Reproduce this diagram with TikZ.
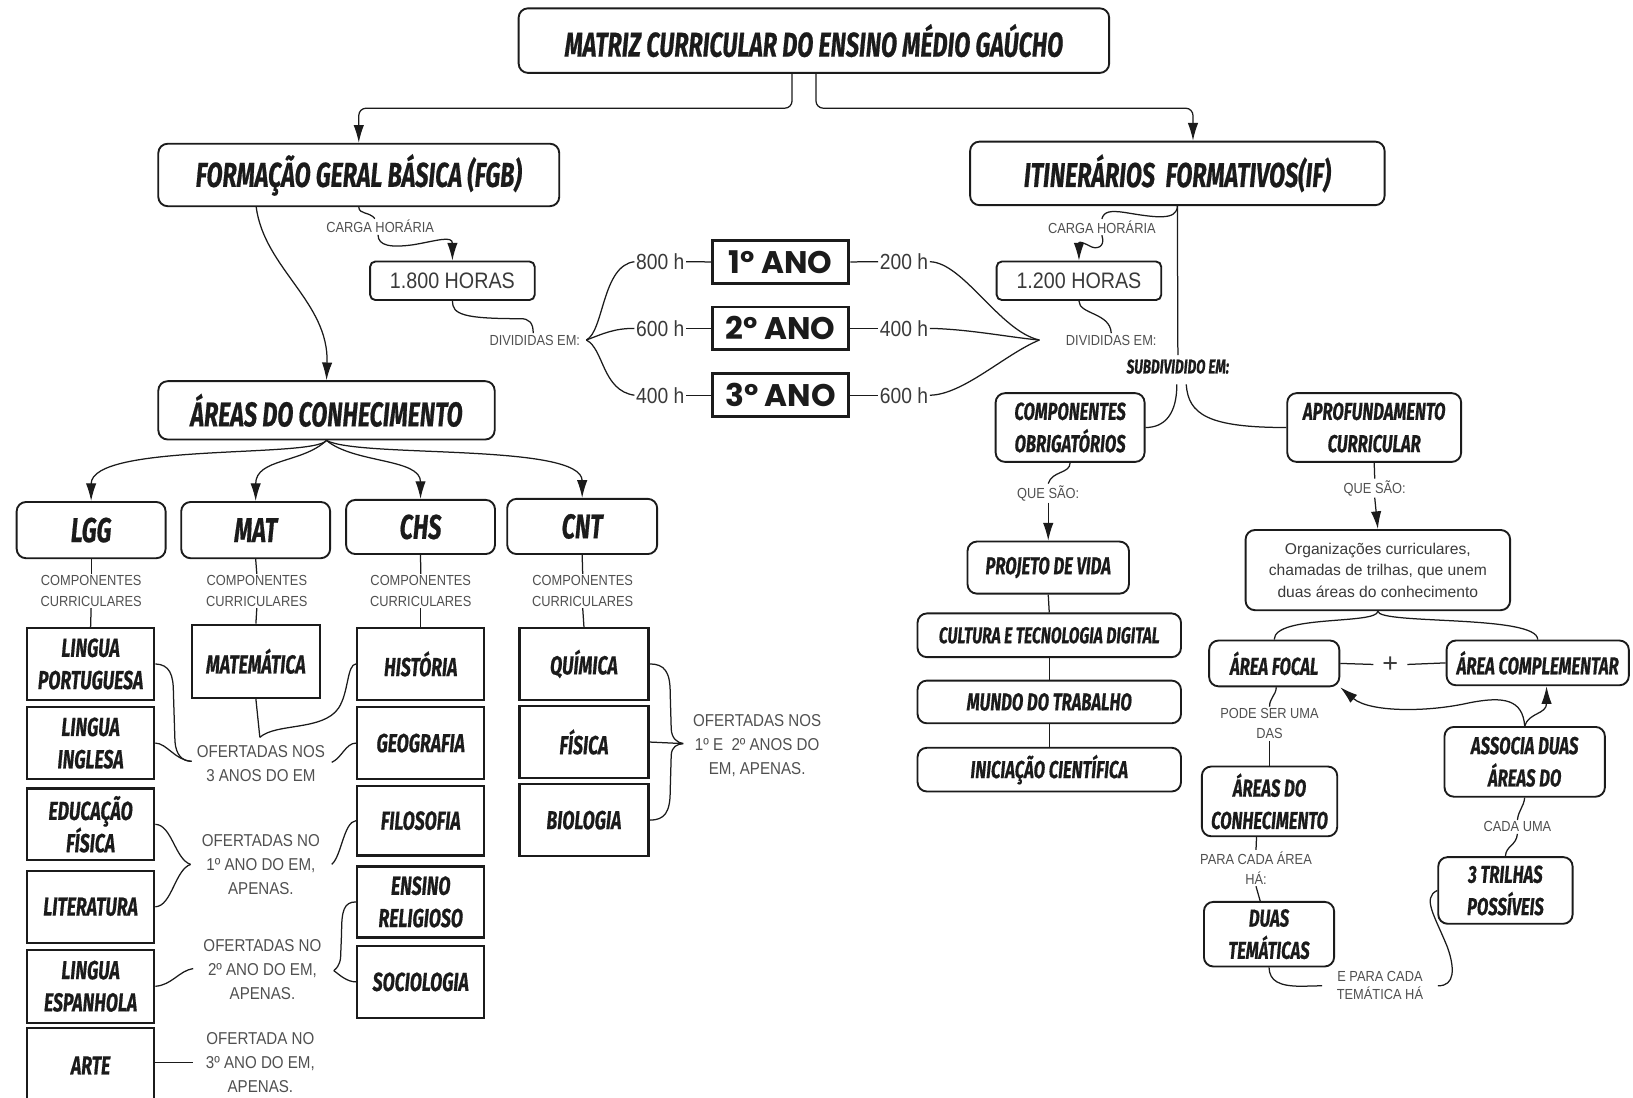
\documentclass[tikz,border=0pt]{standalone}
\usepackage{fontspec}
\usetikzlibrary{arrows.meta}
\newfontfamily\hfont[FakeStretch=0.68,FakeBold=0.5]{Fira Sans}
\newfontfamily\lfont[FakeStretch=0.88]{Liberation Sans}
\newfontfamily\bodyfont{Liberation Sans}
\newfontfamily\yfont{Poppins}
\definecolor{ink}{HTML}{1B1B1B}
\definecolor{labgray}{HTML}{505050}
\definecolor{darktxt}{HTML}{3A3A3A}
\tikzset{
  nodebase/.style={inner sep=0pt, align=center, text=ink},
  sz/.style 2 args={minimum width=#1pt, minimum height=#2pt},
  rbox/.style={nodebase, draw=ink, line width=1.8pt, rounded corners=9pt},
  sbox/.style={nodebase, draw=ink, line width=2.3pt},
  ybox/.style={nodebase, draw=ink, line width=2.8pt, sz={131}{41},
    font=\yfont\bfseries\fontsize{30}{30}\selectfont},
  hbox/.style={nodebase, draw=ink, line width=1.8pt, rounded corners=5pt, sz={158}{37},
    text=darktxt, font=\lfont\fontsize{21.5}{24}\selectfont},
  hA/.style={font=\hfont\bfseries\itshape\fontsize{33}{38}\selectfont},
  hB/.style={font=\hfont\bfseries\itshape\fontsize{25}{31}\selectfont},
  hC/.style={font=\hfont\bfseries\itshape\fontsize{23.5}{31}\selectfont},
  hsmall/.style={nodebase, inner sep=4pt, font=\hfont\bfseries\itshape\fontsize{19}{21}\selectfont},
  lab/.style={text=labgray, align=center, inner sep=1.5pt, font=\lfont\fontsize{14}{19.5}\selectfont},
  labL/.style={text=labgray, align=center, inner sep=1.5pt, font=\lfont\fontsize{16.5}{23}\selectfont},
  hrs/.style={text=darktxt, inner sep=1.5pt, font=\lfont\fontsize{21}{24}\selectfont},
  orgtext/.style={text=darktxt, font=\bodyfont\fontsize{15}{20.5}\selectfont},
  link/.style={draw=ink, line width=1.2pt},
  arr/.style={link, -{Latex[length=17pt,width=10pt]}}
}
\begin{document}
\begin{tikzpicture}[x=1pt,y=1pt]
\fill[white] (0,0) rectangle (1568,-1054);
\useasboundingbox (0,0) rectangle (1568,-1054);

% ---------- main headings ----------
\node[rbox,hA,sz={567}{62}] (title) at (781.5,-39) {MATRIZ CURRICULAR DO ENSINO MÉDIO GAÚCHO};
\node[rbox,hA,sz={385}{60}] (fgb) at (344.5,-168) {FORMAÇÃO GERAL BÁSICA (FGB)};
\node[rbox,hA,sz={398}{61}] (if) at (1130.5,-166.5) {ITINERÁRIOS\ \ FORMATIVOS(IF)};
\node[rbox,hA,sz={323}{56}] (areas) at (313.5,-394) {ÁREAS DO CONHECIMENTO};

\draw[arr,rounded corners=7pt] ([xshift=-21pt]title.south) -- ++(0,-33) -| (fgb.north);
\draw[arr,rounded corners=7pt] ([xshift=2pt]title.south) -- ++(0,-33) -| ([xshift=15pt]if.north);

% ---------- knowledge areas ----------
\node[rbox,hA,sz={143}{54}] (lgg) at (87.5,-509) {LGG};
\node[rbox,hA,sz={143}{54}] (mat) at (245.5,-509) {MAT};
\node[rbox,hA,sz={143}{52}] (chs) at (403.8,-506) {CHS};
\node[rbox,hA,sz={144}{53}] (cnt) at (559,-505.5) {CNT};

\draw[arr] ([xshift=-98.5pt]fgb.south) .. controls (254,-258) and (316,-290) .. (areas.north);
\draw[arr] (areas.south) .. controls (300,-440) and (87.5,-425) .. (lgg.north);
\draw[arr] (areas.south) .. controls (290,-445) and (245.5,-440) .. (mat.north);
\draw[arr] (areas.south) .. controls (340,-445) and (403.8,-440) .. (chs.north);
\draw[arr] (areas.south) .. controls (345,-440) and (559,-425) .. (cnt.north);

\node[lab] (cc1) at (87.5,-567.5) {COMPONENTES\\CURRICULARES};
\node[lab] (cc2) at (246.6,-567.5) {COMPONENTES\\CURRICULARES};
\node[lab] (cc3) at (404,-567.5) {COMPONENTES\\CURRICULARES};
\node[lab] (cc4) at (559.5,-567.5) {COMPONENTES\\CURRICULARES};

% ---------- curricular components ----------
\node[sbox,hB,sz={122}{69}] (lp) at (87,-637.5) {LINGUA\\PORTUGUESA};
\node[sbox,hB,sz={122}{69}] (li) at (87,-713.5) {LINGUA\\INGLESA};
\node[sbox,hB,sz={122}{69}] (ef) at (87,-791.5) {EDUCAÇÃO\\FÍSICA};
\node[sbox,hB,sz={122}{69}] (lit) at (87,-870.7) {LITERATURA};
\node[sbox,hB,sz={122}{70}] (le) at (87,-947) {LINGUA\\ESPANHOLA};
\node[sbox,hB,sz={122}{72}] (arte) at (87,-1023) {ARTE};

\node[sbox,hB,sz={123}{70}] (matem) at (245.7,-635) {MATEMÁTICA};

\node[sbox,hB,sz={122}{69}] (hist) at (404,-637.5) {HISTÓRIA};
\node[sbox,hB,sz={122}{69}] (geo) at (404,-713.5) {GEOGRAFIA};
\node[sbox,hB,sz={122}{67}] (filo) at (404,-788) {FILOSOFIA};
\node[sbox,hB,sz={122}{68}] (ens) at (404,-866) {ENSINO\\RELIGIOSO};
\node[sbox,hB,sz={122}{69}] (soc) at (404,-942.8) {SOCIOLOGIA};

\node[sbox,hB,sz={124}{69}] (quim) at (560.7,-637.5) {QUÍMICA};
\node[sbox,hB,sz={124}{69}] (fis) at (560.7,-712.5) {FÍSICA};
\node[sbox,hB,sz={124}{69}] (bio) at (560.7,-787.5) {BIOLOGIA};

\draw[link] (lgg.south) -- (cc1.north);  \draw[link] (cc1.south) -- (lp.north);
\draw[link] (mat.south) -- (cc2.north);  \draw[link] (cc2.south) -- (matem.north);
\draw[link] (chs.south) -- (cc3.north);  \draw[link] (cc3.south) -- (hist.north);
\draw[link] (cnt.south) -- (cc4.north);  \draw[link] (cc4.south) -- (quim.north);

% ---------- offering notes ----------
\node[labL] (of3) at (250.5,-733) {OFERTADAS NOS\\3 ANOS DO EM};
\node[labL] (of1) at (250.5,-830) {OFERTADAS NO\\1º ANO DO EM,\\APENAS.};
\node[labL] (of2) at (252,-931) {OFERTADAS NO\\2º ANO DO EM,\\APENAS.};
\node[labL] (of3a) at (250,-1020) {OFERTADA NO\\3º ANO DO EM,\\APENAS.};
\node[labL] (ofc) at (727,-715.5) {OFERTADAS NOS\\1º E\ \ 2º ANOS DO\\EM, APENAS.};

\coordinate (b1) at (184,-731);
\coordinate (b2) at (249.5,-708);
\coordinate (b3) at (318.5,-732);
\coordinate (b4) at (183,-830);
\coordinate (b5) at (318.5,-830);
\coordinate (b6) at (185.5,-930);
\coordinate (b7) at (320.5,-932);
\coordinate (b8) at (185.6,-1020);
\coordinate (b9) at (656,-714);

\draw[link] (lp.east) .. controls (163,-638) and (166.5,-648) .. (166.5,-665) -- (168,-712) .. controls (169,-725) and (175,-731) .. (b1);
\draw[link] (li.east) .. controls (160,-713.5) and (168,-730) .. (b1);
\draw[link] (matem.south) -- (b2);
\draw[link] (b2) .. controls (265,-694) and (310,-702) .. (325,-680) .. controls (335,-665) and (333,-638) .. (hist.west);
\draw[link] (geo.west) .. controls (332,-713.5) and (328,-728) .. (b3);

\draw[link] (ef.east) .. controls (165,-792) and (168,-825) .. (b4);
\draw[link] (lit.east) .. controls (165,-870) and (168,-835) .. (b4);
\draw[link] (filo.west) .. controls (330,-789) and (328,-822) .. (b5);

\draw[link] (le.east) .. controls (165,-946) and (172,-932) .. (b6);
\draw[link] (ens.west) .. controls (330,-866) and (328,-875) .. (328,-895) -- (327,-920) .. controls (326,-927) and (323,-930) .. (b7);
\draw[link] (soc.west) .. controls (333,-942.8) and (326,-936) .. (b7);

\draw[link] (arte.east |- b8) -- (b8);

\draw[link] (quim.east) .. controls (638,-637.5) and (643.5,-645) .. (643.5,-665) -- (644.5,-700) .. controls (645,-709) and (650,-713) .. (b9);
\draw[link] (fis.east) -- (b9);
\draw[link] (bio.east) .. controls (638,-787.5) and (643.5,-780) .. (643.5,-760) -- (644.5,-725) .. controls (645,-717) and (650,-714.5) .. (b9);

% ---------- workload (FGB) ----------
\node[lab] (carga1) at (365,-217.7) {CARGA HORÁRIA};
\node[hbox] (h1800) at (434.4,-269.6) {1.800 HORAS};
\node[lab] (div1) at (513.5,-326.5) {DIVIDIDAS EM:};

\draw[link] (fgb.south) .. controls (345,-206) and (354,-203) .. ([xshift=-5pt]carga1.north);
\draw[arr] ([xshift=-2pt]carga1.south) .. controls (363,-236) and (375,-238) .. (397,-235) .. controls (420,-231) and (434.4,-226) .. (h1800.north);
\draw[link] (h1800.south) .. controls (434.4,-302) and (445,-306) .. (500,-306) .. controls (508,-306) and (512,-310) .. ([xshift=-1.5pt]div1.north);

% ---------- years ----------
\node[ybox] (y1) at (749.5,-251.5) {1º ANO};
\node[ybox] (y2) at (749.5,-315.3) {2º ANO};
\node[ybox] (y3) at (749.5,-379.5) {3º ANO};

\node[hrs] (h800) at (634,-251.3) {800 h};
\node[hrs] (h600) at (634,-315.3) {600 h};
\node[hrs] (h400) at (634,-379.5) {400 h};
\node[hrs] (h200) at (868,-251.3) {200 h};
\node[hrs] (h400r) at (868,-315.3) {400 h};
\node[hrs] (h600r) at (868,-379.5) {600 h};

\coordinate (j1) at (563,-326.5);
\coordinate (j2) at (998,-326.5);

\draw[link] (j1) .. controls (580,-318) and (578,-255) .. (h800.west);
\draw[link] (j1) .. controls (580,-320) and (590,-315.3) .. (h600.west);
\draw[link] (j1) .. controls (580,-335) and (578,-375) .. (h400.west);

\draw[link] (h800.east) -- (y1.west);  \draw[link] (y1.east) -- (h200.west);
\draw[link] (h600.east) -- (y2.west);  \draw[link] (y2.east) -- (h400r.west);
\draw[link] (h400.east) -- (y3.west);  \draw[link] (y3.east) -- (h600r.west);

\draw[link] (h200.east) .. controls (925,-252) and (960,-318) .. (j2);
\draw[link] (h400r.east) .. controls (930,-316) and (970,-324) .. (j2);
\draw[link] (h600r.east) .. controls (925,-379) and (965,-340) .. (j2);

% ---------- workload (IF) ----------
\node[lab] (div2) at (1067,-326.5) {DIVIDIDAS EM:};
\node[lab] (carga2) at (1058,-218) {CARGA HORÁRIA};
\node[hbox] (h1200) at (1036,-269.6) {1.200 HORAS};

\draw[link] (if.south) .. controls (1130,-212) and (1110,-209) .. (1080,-204) .. controls (1066,-202) and (1060,-203) .. (carga2.north);
\draw[arr] (carga2.south) .. controls (1062,-238) and (1052,-240) .. (1046,-236) .. controls (1040,-233) and (1037,-232) .. (1036,-233) -- (h1200.north);
\draw[link] (h1200.south) .. controls (1036,-302) and (1066,-300) .. (div2.north);

% ---------- formative itineraries ----------
\node[hsmall] (subd) at (1131,-352) {SUBDIVIDIDO EM:};
\draw[link] (if.south) -- (subd.north);

\node[rbox,hC,sz={143}{66}] (co) at (1027.5,-410.5) {COMPONENTES\\OBRIGATÓRIOS};
\node[rbox,hC,sz={167}{66}] (ac) at (1319.5,-410.5) {APROFUNDAMENTO\\CURRICULAR};

\draw[link] ([xshift=-1pt,yshift=-6pt]subd.south) .. controls (1130,-398) and (1118,-410.5) .. (co.east);
\draw[link] ([xshift=8pt,yshift=-6pt]subd.south) .. controls (1141,-398) and (1160,-410.5) .. (ac.west);

\node[lab] (que1) at (1006.5,-473.5) {QUE SÃO:};
\node[lab] (que2) at (1320,-468.7) {QUE SÃO:};

\node[rbox,hC,sz={155}{50}] (pv) at (1006.5,-545) {PROJETO DE VIDA};
\node[rbox,hC,sz={253}{42},font=\hfont\bfseries\itshape\fontsize{22}{26}\selectfont] (ctd) at (1007.5,-610) {CULTURA E TECNOLOGIA DIGITAL};
\node[rbox,hC,sz={253}{41}] (mt) at (1007.5,-674) {MUNDO DO TRABALHO};
\node[rbox,hC,sz={253}{42}] (ic) at (1007.5,-739) {INICIAÇÃO CIENTÍFICA};

\draw[link] (co.south) .. controls (1027.5,-455) and (1010,-452) .. (que1.north);
\draw[arr] (que1.south) -- (pv.north);
\draw[link] (pv.south) -- (ctd.north);
\draw[link] (ctd.south) -- (mt.north);
\draw[link] (mt.south) -- (ic.north);

\node[rbox,orgtext,sz={254}{77}] (org) at (1323,-547.4) {Organizações curriculares,\\chamadas de trilhas, que unem\\duas áreas do conhecimento};
\draw[link] (ac.south) -- (que2.north);
\draw[arr] (que2.south) -- (org.north);

\node[rbox,hC,sz={125}{44}] (af) at (1223.5,-637) {ÁREA FOCAL};
\node[text=darktxt, inner ysep=2pt, inner xsep=8.5pt, font=\bodyfont\fontsize{26}{26}\selectfont] (plus) at (1335,-638) {+};
\node[rbox,hC,sz={175}{43}] (acomp) at (1476.5,-636.5) {ÁREA COMPLEMENTAR};

\draw[link] (org.south) .. controls (1323,-600) and (1223.5,-590) .. (af.north);
\draw[link] (org.south) .. controls (1323,-600) and (1476.5,-590) .. (acomp.north);
\draw[link] (af.east) -- (plus.west);
\draw[link] (plus.east) -- (acomp.west);

\node[rbox,hC,sz={154}{67}] (assoc) at (1464,-731.5) {ASSOCIA DUAS\\ÁREAS DO};
\draw[arr] (assoc.north) .. controls (1462,-672) and (1445,-668) .. (1410,-675) .. controls (1370,-684) and (1315,-684) .. (af.south east);
\draw[arr] (assoc.north) .. controls (1468,-684) and (1485,-686) .. ([xshift=8.5pt]acomp.south);

\node[lab] (cada) at (1457,-794) {CADA UMA};
\node[rbox,hC,sz={129}{64}] (trilhas) at (1445.5,-855) {3 TRILHAS\\POSSÍVEIS};
\draw[link] (assoc.south) .. controls (1463,-775) and (1458,-778) .. (cada.north);
\draw[link] (cada.south) .. controls (1456,-812) and (1446,-812) .. (trilhas.north);

\node[lab] (pode) at (1219,-695) {PODE SER UMA\\DAS};
\node[rbox,hC,sz={130}{67}] (areas2) at (1219,-769.5) {ÁREAS DO\\CONHECIMENTO};
\node[lab] (para) at (1206,-833.5) {PARA CADA ÁREA\\HÁ:};
\node[rbox,hC,sz={125}{62}] (duas) at (1218.5,-897) {DUAS\\TEMÁTICAS};
\node[lab,inner xsep=14pt,font=\lfont\fontsize{14}{17.5}\selectfont] (epara) at (1325,-946.5) {E PARA CADA\\TEMÁTICA HÁ};

\draw[link] ([xshift=2pt]af.south) .. controls (1225,-668) and (1219,-670) .. (pode.north);
\draw[link] (pode.south) -- (areas2.north);
\draw[link] ([xshift=-12.5pt]areas2.south) -- (para.north);
\draw[link] (para.south) -- ([xshift=-8.5pt]duas.north);
\draw[link] (duas.south) .. controls (1219,-942) and (1228,-947) .. (1250,-947) -- (epara.west);
\draw[link] (epara.east) .. controls (1397,-947) and (1397,-930) .. (1390,-910) .. controls (1378,-880) and (1365,-862) .. (trilhas.west);
\end{tikzpicture}
\end{document}
